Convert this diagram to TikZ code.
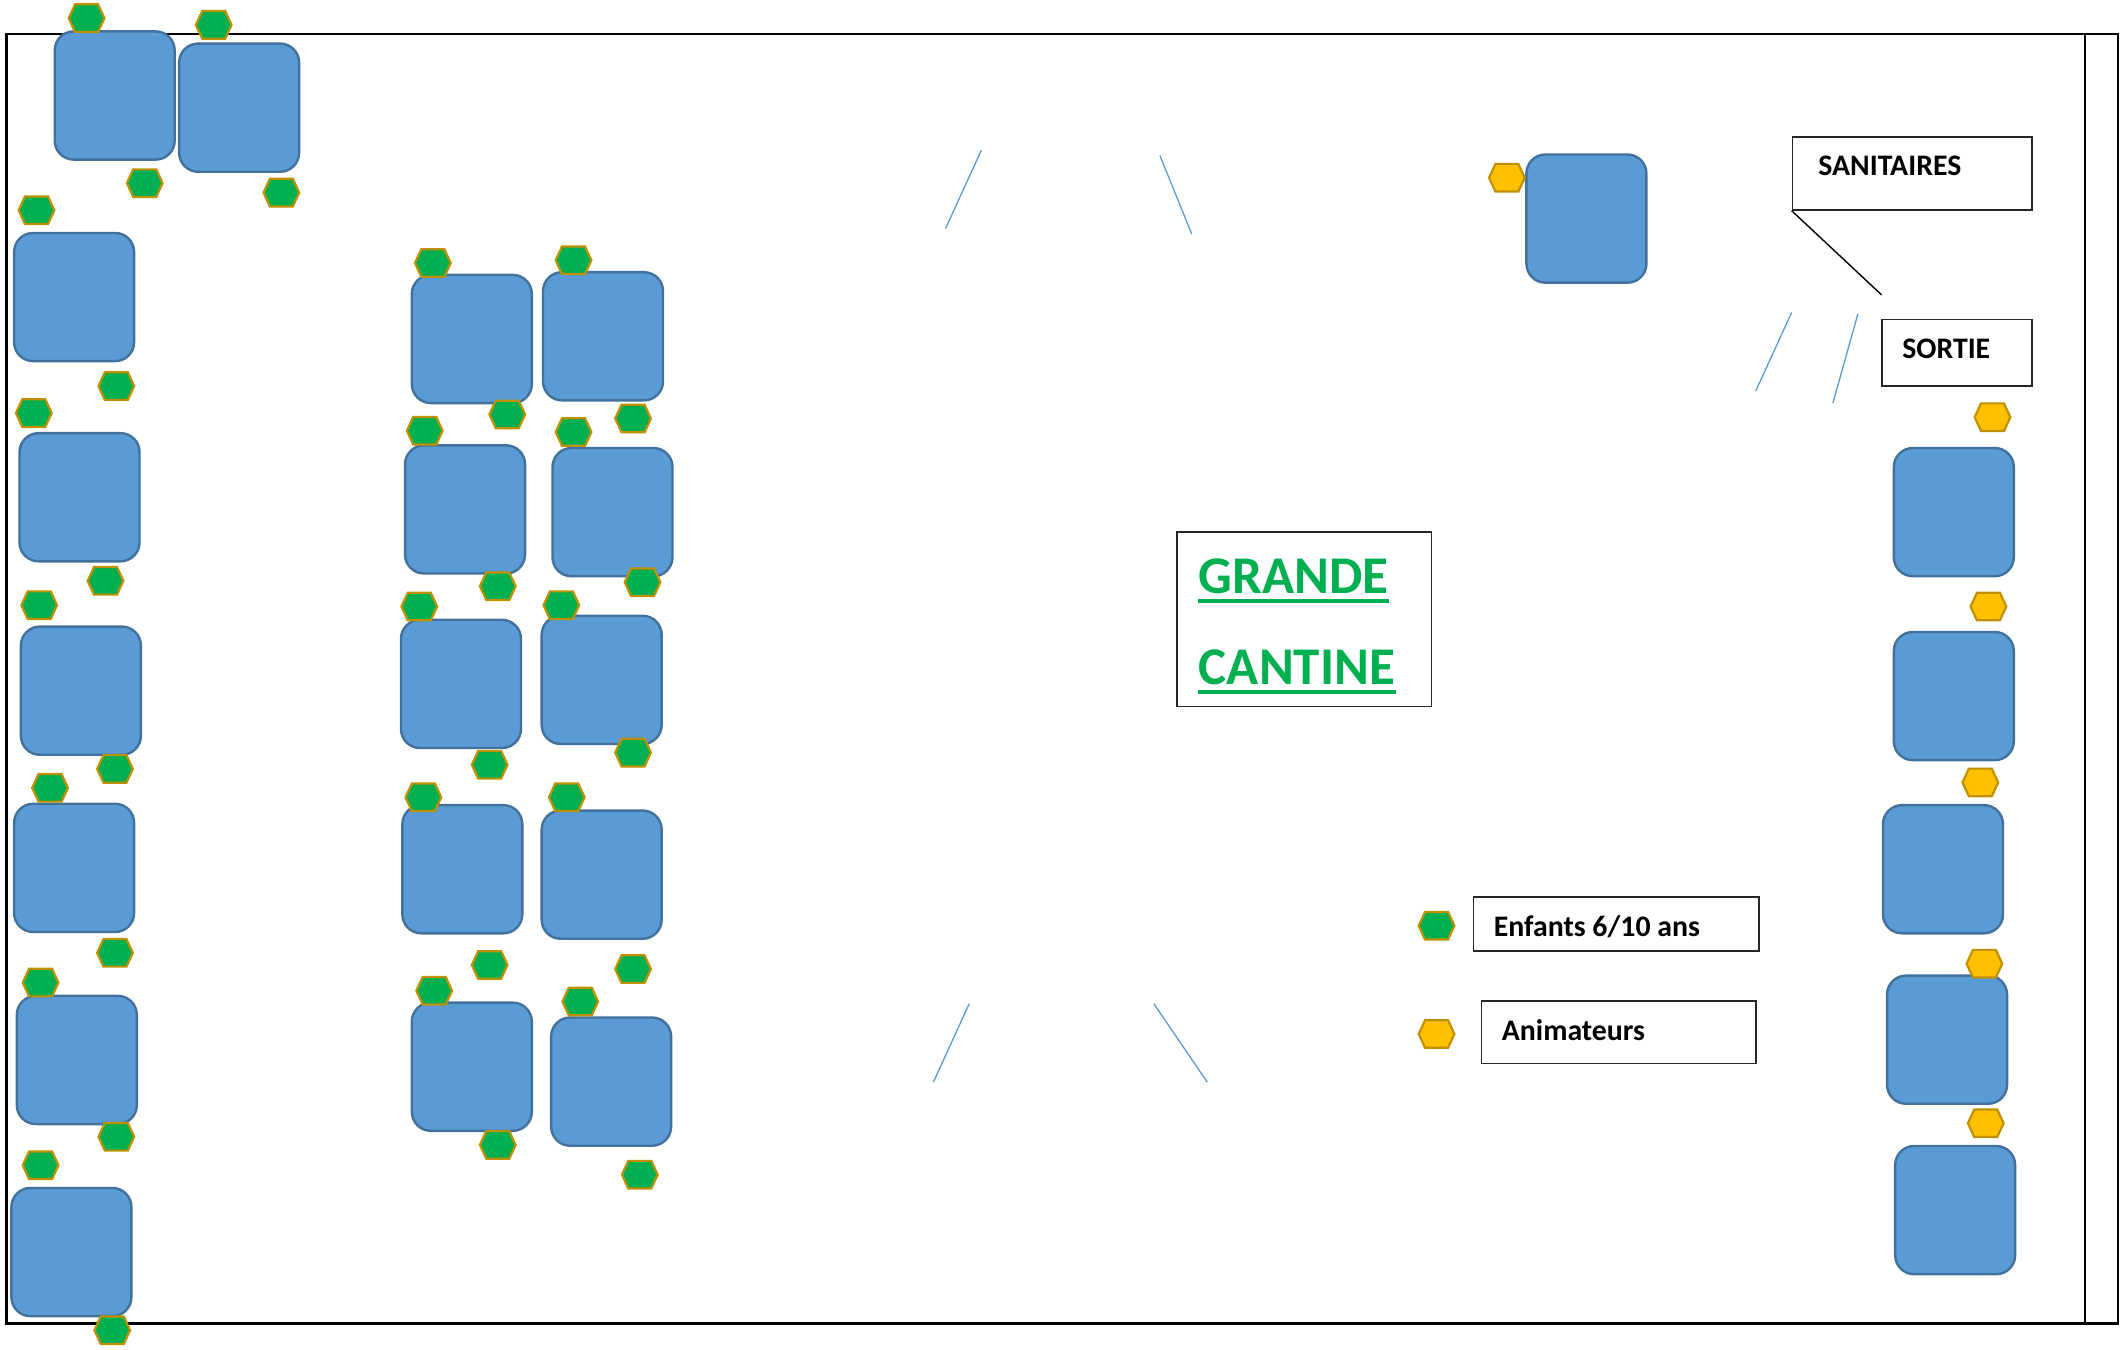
\documentclass[tikz,border=0pt]{standalone}
\usepackage{fontspec}
\setmainfont{Carlito}
\definecolor{tablefill}{HTML}{5B9BD5}
\definecolor{tableedge}{HTML}{41719C}
\definecolor{kidfill}{HTML}{00B050}
\definecolor{staffill}{HTML}{FFC000}
\definecolor{hexedge}{HTML}{BF9000}
\tikzset{
  tablebox/.style={draw=tableedge,fill=tablefill,line width=1.2pt,rounded corners=9.5pt,
    minimum width=60pt,minimum height=64.1pt,inner sep=0pt},
  hexkid/.style={draw=hexedge,fill=kidfill,line width=1.1pt,line join=miter},
  hexstaff/.style={draw=hexedge,fill=staffill,line width=1.1pt,line join=miter},
  door/.style={draw=tablefill,line width=0.65pt},
  labelbox/.style={draw=black!85,line width=0.8pt,inner sep=0pt},
  boldtext/.style={inner sep=0pt,anchor=base west,font=\bfseries\fontsize{14.9}{16}\selectfont},
  bigtext/.style={inner sep=0pt,anchor=base west,text=kidfill,font=\bfseries\fontsize{26.5}{30}\selectfont},
  underl/.style={draw=kidfill,line width=2pt},
}
\newcommand{\hexat}[3]{\path[#3] (#1-13.2,#2+0.4) -- (#1-8.5,#2-9.8) -- (#1+8.5,#2-9.8) -- (#1+13.2,#2+0.4) -- (#1+8.5,#2+10.6) -- (#1-8.5,#2+10.6) -- cycle;}
\begin{document}
\begin{tikzpicture}[x=0.67635pt,y=-0.67635pt]
\useasboundingbox (0,0) rectangle (1568,997.3);
% room
\draw[black,line width=1.2pt] (4.7,25) rectangle (1565.8,978.3);
\draw[black,line width=1.2pt] (1541.5,25) -- (1541.5,978.3);
% doors
\draw[door] (725.5,111) -- (699,169);
\draw[door] (857.5,115) -- (881,173);
\draw[door] (1324.5,231) -- (1298,289);
\draw[door] (1373.5,232) -- (1355,298);
\draw[door] (716.5,742) -- (690,800);
\draw[door] (853,742) -- (892.5,800);
% tables
\foreach \x/\y [count=\i] in {84.8/70.6,176.8/79.6,54.8/219.6,58.8/367.6,59.8/510.6,54.8/641.6,56.8/783.6,52.8/925.6,
  348.8/250.6,445.8/248.6,343.8/376.6,452.8/378.6,340.8/505.6,444.8/502.6,341.8/642.6,444.8/646.6,348.8/788.6,451.8/799.6,
  1172.8/161.6,1444.4/378.6,1444.4/514.6,1436.4/642.6,1439.4/768.6,1445.4/894.6}
  \node[tablebox] (table\i) at (\x,\y) {};
% children
\foreach \x/\y in {64/13,158/18,107/135,208/142,27/155,86/285,25/305,78/429,29/447,85/568,37/582,85/704,30/726,86/840,30/861,83/983,
  320/194,424/192,375/306,468/309,314/318,424/319,368/433,475/430,310/448,415/447,362/565,468/556,313/589,419/589,362/713,468/716,321/732,429/740,368/846,473/868,1062/684}
  {\hexat{\x}{\y}{hexkid}}
% staff
\foreach \x/\y in {1114/131,1473/308,1470/448,1464/578,1467/712,1468/830,1062/764}
  {\hexat{\x}{\y}{hexstaff}}
% label boxes
\node[labelbox,minimum width=119.7pt,minimum height=36.5pt] (sanibox) at (1413.6,128.2) {};
\node[labelbox,minimum width=75.1pt,minimum height=33.1pt] (sortiebox) at (1446.6,260.7) {};
\node[labelbox,minimum width=127.2pt,minimum height=87.2pt] (titlebox) at (964.3,457.7) {};
\node[labelbox,minimum width=142.7pt,minimum height=27pt] (kidbox) at (1194.7,683.2) {};
\node[labelbox,minimum width=137.3pt,minimum height=31.1pt] (staffbox) at (1196.7,763.2) {};
\coordinate (sanifoot) at (1391,218);
\draw[black,line width=0.7pt] (sanibox.south west) -- (sanifoot);
% texts
\node[boldtext] (sani) at (1344,130) {SANITAIRES};
\node[boldtext] (sortie) at (1406,265) {SORTIE};
\node[boldtext] (kid) at (1104,692) {Enfants 6/10 ans};
\node[boldtext] (staff) at (1110,769) {Animateurs};
\node[bigtext] (grande) at (886,439) {GRANDE};
\node[bigtext] (cantine) at (886,506) {CANTINE};
\draw[underl] ([yshift=-3.6pt]grande.base west) -- ([yshift=-3.6pt]grande.base east);
\draw[underl] ([yshift=-3.6pt]cantine.base west) -- ([yshift=-3.6pt]cantine.base east);
\end{tikzpicture}
\end{document}
